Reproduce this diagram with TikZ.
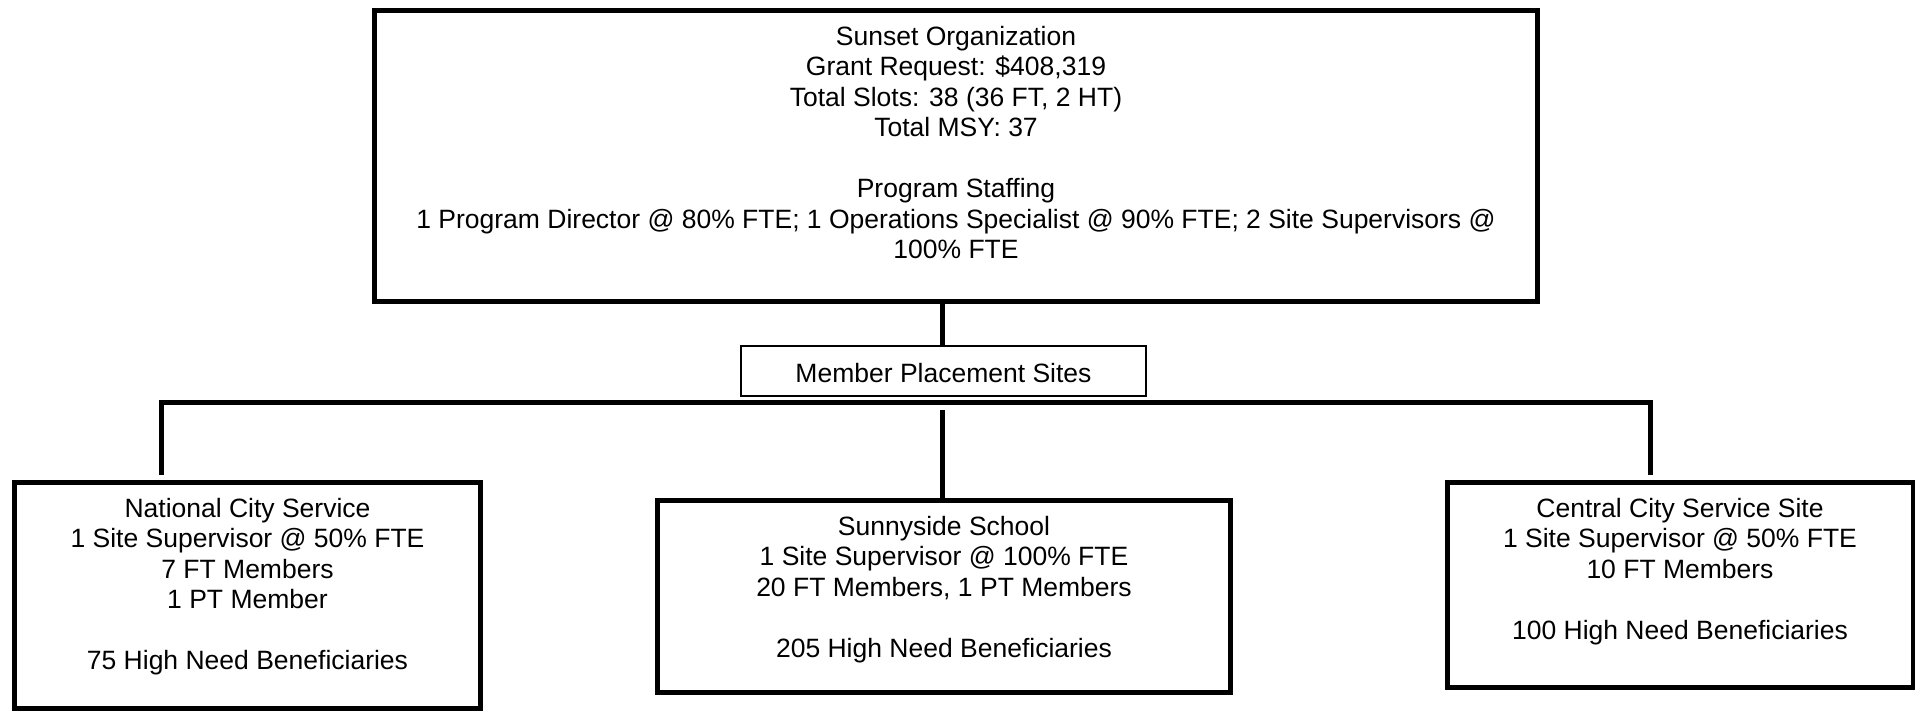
\documentclass[tikz,border=0pt]{standalone}
\usepackage{fontspec}
\setmainfont{Liberation Sans}
\begin{document}
\begin{tikzpicture}[x=1pt,y=-1pt,
  box/.style={draw, rectangle, line width=5pt, inner sep=0pt, anchor=north west, line join=miter},
  txt/.style={align=center, inner sep=0pt, anchor=north, font=\fontsize{26.5pt}{30.5pt}\selectfont},
  conn/.style={line width=5pt, line cap=butt, line join=miter}
]
\useasboundingbox (0,0) rectangle (1915,710);
\fill[white] (0,0) rectangle (1915,710);

% top box
\node[box, minimum width=1163pt, minimum height=291pt] (org) at (372,8) {};
\node[txt] (orgt) at ([yshift=-15.65pt]org.north) {\strut Sunset Organization\\Grant Request: \$408,319\\Total Slots: 38 (36 FT, 2 HT)\\Total MSY: 37\\[30.5pt]Program Staffing\\1 Program Director @ 80\% FTE; 1 Operations Specialist @ 90\% FTE; 2 Site Supervisors @\\100\% FTE};

% member placement sites
\node[draw, rectangle, line width=2pt, minimum width=405pt, minimum height=50pt, inner sep=0pt, text height=22pt, text depth=0pt, font=\fontsize{26.5pt}{30.5pt}\selectfont] (mps) at (943.5,371) {Member Placement Sites};

% site boxes
\node[box, minimum width=466pt, minimum height=226pt] (ncs) at (12,480) {};
\node[txt] (ncst) at ([yshift=-15.65pt]ncs.north) {\strut National City Service\\1 Site Supervisor @ 50\% FTE\\7 FT Members\\1 PT Member\\[30.5pt]75 High Need Beneficiaries};

\node[box, minimum width=573pt, minimum height=192pt] (sun) at (655,498) {};
\node[txt] (sunt) at ([yshift=-15.65pt]sun.north) {\strut Sunnyside School\\1 Site Supervisor @ 100\% FTE\\20 FT Members, 1 PT Members\\[30.5pt]205 High Need Beneficiaries};

\node[box, minimum width=466pt, minimum height=204.5pt] (ccs) at (1444.5,480) {};
\node[txt] (ccst) at ([yshift=-15.65pt]ccs.north) {\strut Central City Service Site\\1 Site Supervisor @ 50\% FTE\\10 FT Members\\[30.5pt]100 High Need Beneficiaries};

% connectors
\coordinate (busL) at (161.5,402.5);
\coordinate (busR) at (1650,402.5);
\coordinate (busM) at (942,410);
\draw[conn] (org.south -| busM) -- (mps.north -| busM);
\draw[conn] ([yshift=5pt]busL |- ncs.north) -- (busL) -- (busR) -- ([yshift=5pt]busR |- ccs.north);
\draw[conn] (busM) -- (busM |- sun.north);
\end{tikzpicture}
\end{document}
